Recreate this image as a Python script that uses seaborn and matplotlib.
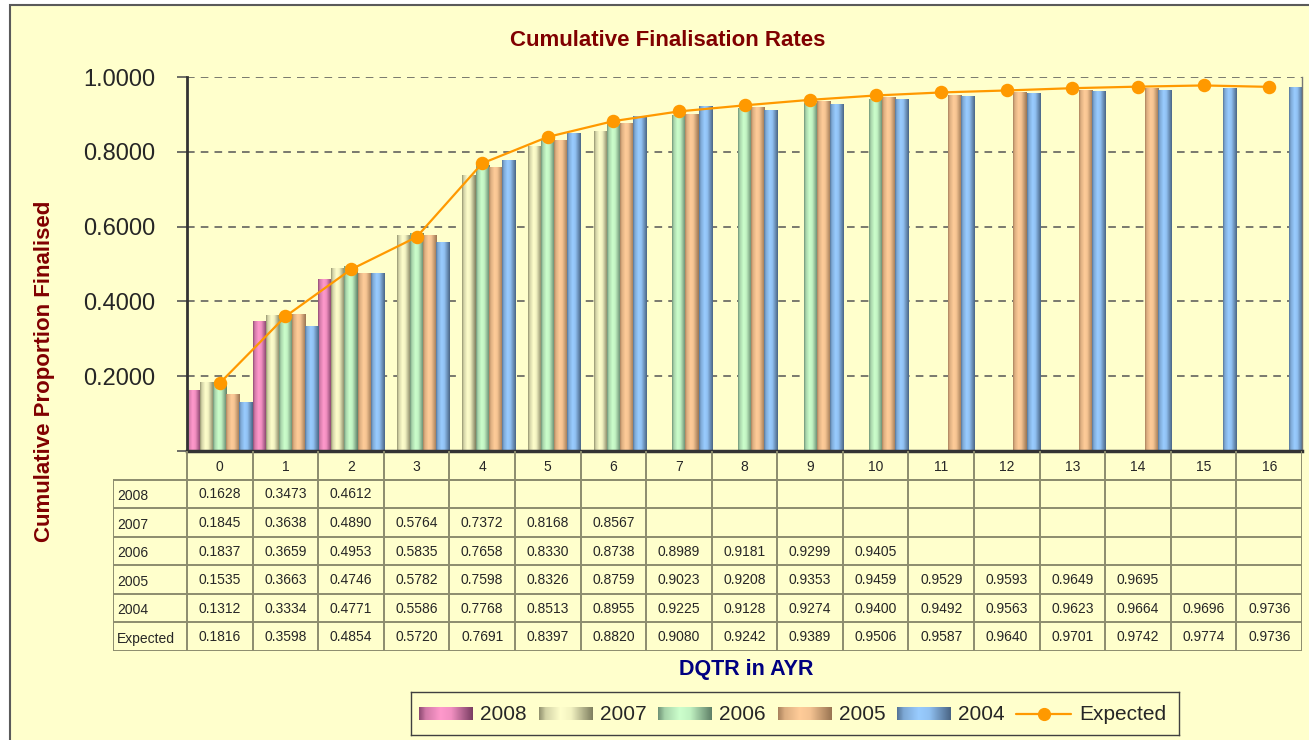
import numpy as np
import pandas as pd
import matplotlib
matplotlib.use("Agg")
import matplotlib.pyplot as plt
from matplotlib.colors import to_rgb, to_rgba
from matplotlib.patches import Rectangle
import seaborn as sns

# ----------------------------------------------------------
# Data
# ----------------------------------------------------------

cats = [str(i) for i in range(17)]
years = ["2008", "2007", "2006", "2005", "2004"]

r2008 = [0.1628, 0.3473, 0.4612]
r2007 = [0.1845, 0.3638, 0.4890, 0.5764, 0.7372, 0.8168, 0.8567]
r2006 = [0.1837, 0.3659, 0.4953, 0.5835, 0.7658, 0.8330, 0.8738, 0.8989,
         0.9181, 0.9299, 0.9405]
r2005 = [0.1535, 0.3663, 0.4746, 0.5782, 0.7598, 0.8326, 0.8759, 0.9023,
         0.9208, 0.9353, 0.9459, 0.9529, 0.9593, 0.9649, 0.9695]
r2004 = [0.1312, 0.3334, 0.4771, 0.5586, 0.7768, 0.8513, 0.8955, 0.9225,
         0.9128, 0.9274, 0.9400, 0.9492, 0.9563, 0.9623, 0.9664, 0.9696,
         0.9736]
expected = [0.1816, 0.3598, 0.4854, 0.5720, 0.7691, 0.8397, 0.8820, 0.9080,
            0.9242, 0.9389, 0.9506, 0.9587, 0.9640, 0.9701, 0.9742, 0.9774,
            0.9736]

series = {"2008": r2008, "2007": r2007, "2006": r2006,
          "2005": r2005, "2004": r2004}

bright = {"2008": "#FF99CC", "2007": "#FFFFCC", "2006": "#CCFFCC",
          "2005": "#FFCC99", "2004": "#99CCFF"}
dark = {"2008": "#7A3D63", "2007": "#7F7F5F", "2006": "#5F8068",
        "2005": "#9A7552", "2004": "#4A6585"}

rows = []
for y in years:
    for i, v in enumerate(series[y]):
        rows.append({"DQTR": cats[i], "Year": y, "Rate": v})
df = pd.DataFrame(rows)

# ----------------------------------------------------------
# Style
# ----------------------------------------------------------

sns.set_style("white")
plt.rcParams["font.family"] = ["Liberation Sans", "DejaVu Sans"]

BG = "#FFFFCC"
GRID = "#8C8C6E"
W, H = 1309, 740


def gradient(year, n=64):
    t = np.linspace(0, 1, n)
    s = np.interp(t, [0, 0.12, 0.4, 0.6, 1.0], [0.15, 0.65, 1.0, 0.9, 0.0])
    b = np.array(to_rgb(bright[year]))
    d = np.array(to_rgb(dark[year]))
    return (d + (b - d) * s[:, None])[None, :, :]


fig = plt.figure(figsize=(W / 100, H / 100), dpi=100, facecolor="white")
fig.add_artist(Rectangle((10 / W, -0.05), 1.0, 1.05 - 5 / H,
                         transform=fig.transFigure, facecolor=BG,
                         edgecolor="#5A5A5A", linewidth=1.5, zorder=-10))

ax = fig.add_axes([187 / W, 1 - 451 / H, (1302 - 187) / W, (451 - 77) / H])
ax.set_facecolor(BG)

# ----------------------------------------------------------
# Bars + expected line
# ----------------------------------------------------------

sns.barplot(data=df, x="DQTR", y="Rate", hue="Year", order=cats,
            hue_order=years, palette=[bright[y] for y in years],
            width=1.0, saturation=1, errorbar=None, legend=False,
            linewidth=0, ax=ax)

col2year = {to_rgba(bright[y]): y for y in years}
for p in list(ax.patches):
    h = p.get_height()
    if not np.isfinite(h) or h <= 0:
        continue
    yr = col2year.get(tuple(p.get_facecolor()))
    if yr is None:
        continue
    x0 = p.get_x()
    im = ax.imshow(gradient(yr), extent=[x0, x0 + p.get_width(), 0, h],
                   aspect="auto", interpolation="bilinear", zorder=1.5)
    im.set_clip_path(p)

sns.pointplot(x=cats, y=expected, order=cats, color="#FF9900",
              markers="o", markersize=8.5, linewidth=1.6, errorbar=None,
              ax=ax)
for ln in ax.lines:
    ln.set_zorder(3)

ax.set_xlim(-0.5, 16.5)
ax.set_ylim(0, 1.0)
ax.set_yticks([0, 0.2, 0.4, 0.6, 0.8, 1.0])
ax.set_yticklabels([""] + ["%.4f" % v for v in [0.2, 0.4, 0.6, 0.8, 1.0]],
                   fontsize=17)
ax.tick_params(axis="y", left=True, length=7, width=1.2, color="#555555",
               pad=16)
ax.set_xticks([])
ax.set_xlabel("")
ax.set_ylabel("")

ax.set_axisbelow(True)
for v in [0.2, 0.4, 0.6, 0.8, 1.0]:
    ax.axhline(v, color="#555555", linewidth=1.1, dashes=(5, 4), zorder=0.5)

ax.spines["top"].set_visible(False)
ax.spines["left"].set_color("#333333")
ax.spines["left"].set_linewidth(2)
ax.spines["bottom"].set_color("#333333")
ax.spines["bottom"].set_linewidth(2.5)
ax.spines["right"].set_color("#777777")
ax.spines["right"].set_linewidth(1)

# ----------------------------------------------------------
# Data table
# ----------------------------------------------------------

unit = (1302 - 187) / 17.0
hdr = 74 / unit
tax = fig.add_axes([113 / W, 1 - 651 / H, (1302 - 113) / W, (651 - 451) / H])
tax.set_xlim(-0.5 - hdr, 16.5)
tax.set_ylim(7, 0)
tax.axis("off")

lw = 1.4
# header row (categories)
tax.plot([-0.5, 16.5], [1, 1], color=GRID, lw=lw)
for i in range(18):
    tax.plot([i - 0.5, i - 0.5], [0, 7], color=GRID, lw=lw)
for r in range(2, 8):
    tax.plot([-0.5 - hdr, 16.5], [r, r], color=GRID, lw=lw)
tax.plot([-0.5 - hdr, -0.5 - hdr], [1, 7], color=GRID, lw=lw)
tax.plot([-0.5 - hdr, 16.5], [1, 1], color=GRID, lw=lw)

for i, c in enumerate(cats):
    tax.text(i, 0.55, c, ha="center", va="center", fontsize=10)

table_rows = [(y, series[y]) for y in years] + [("Expected", expected)]
for r, (name, vals) in enumerate(table_rows, start=1):
    tax.text(-0.5 - hdr + 0.06, r + 0.58, name, ha="left", va="center",
             fontsize=10)
    for i, v in enumerate(vals):
        tax.text(i, r + 0.52, "%.4f" % v, ha="center", va="center",
                 fontsize=10)

# ----------------------------------------------------------
# Titles
# ----------------------------------------------------------

fig.text(668 / W, 1 - 40 / H, "Cumulative Finalisation Rates",
         ha="center", va="center", fontsize=16, fontweight="bold",
         color="#800000")
fig.text(45 / W, 1 - 371 / H, "Cumulative Proportion Finalised",
         ha="center", va="center", rotation=90, fontsize=16,
         fontweight="bold", color="#800000")
fig.text(746 / W, 1 - 670 / H, "DQTR in AYR", ha="center", va="center",
         fontsize=15.5, fontweight="bold", color="#000080")

# ----------------------------------------------------------
# Legend
# ----------------------------------------------------------

lax = fig.add_axes([411 / W, 1 - 735 / H, 768 / W, 43 / H])
lax.set_xlim(411, 1179)
lax.set_ylim(735, 692)
lax.set_facecolor(BG)
lax.set_xticks([])
lax.set_yticks([])
for s in lax.spines.values():
    s.set_color("#404040")
    s.set_linewidth(1)

patch_x = [419, 539, 658, 778, 897]
for y, px in zip(years, patch_x):
    lax.imshow(gradient(y), extent=[px, px + 54, 720, 707], aspect="auto",
               interpolation="bilinear")
    lax.text(px + 61, 714, y, ha="left", va="center", fontsize=15)
lax.plot([1016, 1071], [713.5, 713.5], color="#FF9900", lw=1.6)
lax.plot([1044], [713.5], marker="o", color="#FF9900", markersize=8.5)
lax.text(1079, 714, "Expected", ha="left", va="center", fontsize=15)
lax.set_xlim(411, 1179)
lax.set_ylim(735, 692)

fig.savefig("out.png", dpi=100, facecolor=fig.get_facecolor())
